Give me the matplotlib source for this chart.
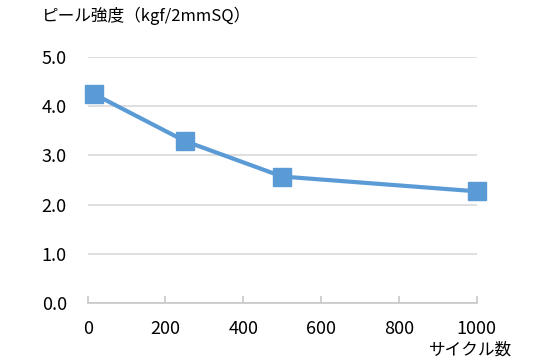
import matplotlib
matplotlib.use('Agg')
import matplotlib.pyplot as plt

plt.rcParams['font.family'] = ['Noto Sans CJK JP', 'DejaVu Sans']

# data
cycles = [15, 250, 500, 1000]
peel = [4.25, 3.29, 2.57, 2.27]
yticks = [0.0, 1.0, 2.0, 3.0, 4.0, 5.0]
xticks = [0, 200, 400, 600, 800, 1000]

fig = plt.figure(figsize=(5.4, 3.6), dpi=100)
ax = fig.add_axes([0.1624, 0.158, 0.7204, 0.684])

ax.plot(cycles, peel, color='#5b9bd5', lw=3, marker='s', ms=13,
        markerfacecolor='#5b9bd5', markeredgecolor='#5b9bd5', zorder=3, clip_on=False)

ax.set_xlim(0, 1000)
ax.set_ylim(0, 5)
ax.set_yticks(yticks)
ax.set_yticklabels(['%.1f' % v for v in yticks])
ax.set_xticks(xticks)
ax.grid(axis='y', color='#d9d9d9', lw=1.2)
ax.set_axisbelow(True)

for s in ['top', 'right', 'left']:
    ax.spines[s].set_visible(False)
ax.spines['bottom'].set_color('#c8c8c8')
ax.spines['bottom'].set_linewidth(1.2)

ax.tick_params(axis='y', length=0, pad=15, labelsize=13, colors='black')
ax.tick_params(axis='x', direction='in', length=5, width=1.2, color='#c8c8c8',
               pad=12, labelsize=13)

fig.text(0.078, 0.955, 'ピール強度（kgf/2mmSQ）', fontsize=12, ha='left', va='center')
fig.text(0.948, 0.028, 'サイクル数', fontsize=12, ha='right', va='center')

fig.savefig('out.png', dpi=100)
